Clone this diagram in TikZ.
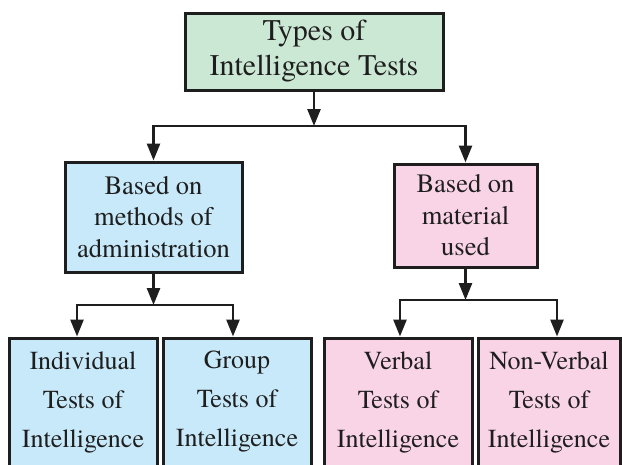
\documentclass[tikz,border=0pt]{standalone}
\usepackage{fontspec}
\setmainfont{texgyretermes}[Extension=.otf, UprightFont=*-regular, BoldFont=*-bold, ItalicFont=*-italic, BoldItalicFont=*-bolditalic]
\usetikzlibrary{arrows.meta}
\definecolor{boxgreen}{RGB}{203,232,213}
\definecolor{boxblue}{RGB}{199,233,249}
\definecolor{boxpink}{RGB}{249,211,230}
\definecolor{ink}{RGB}{30,30,30}
\tikzset{
  box/.style={draw=ink, line width=3pt, align=center, inner sep=0pt, text=ink},
  topfont/.style={font=\rmfamily\fontsize{30}{35}\selectfont},
  midfont/.style={font=\rmfamily\fontsize{26.5}{31.5}\selectfont},
  botfont/.style={font=\rmfamily\fontsize{26}{39}\selectfont},
  arr/.style={draw=ink, line width=2.6pt, -{Triangle[width=13pt,length=17pt]}}
}
\begin{document}
\begin{tikzpicture}[x=1pt,y=-1pt]
\useasboundingbox (0,0) rectangle (622,464);
\node[box, topfont, fill=boxgreen, minimum width=258pt, minimum height=77pt] (top) at (314,51.5) {Types of\\Intelligence Tests};
\node[box, midfont, fill=boxblue, minimum width=177pt, minimum height=110pt] (m1) at (153.5,217) {Based on\\methods of\\administration};
\node[box, midfont, fill=boxpink, minimum width=143pt, minimum height=103pt] (m2) at (465.5,215.5) {Based on\\material\\used};
\node[box, botfont, fill=boxblue, minimum width=148pt, minimum height=128pt] (b1) at (83,402) {Individual\\Tests of\\Intelligence};
\node[box, botfont, fill=boxblue, minimum width=148pt, minimum height=128pt] (b2) at (237,402) {Group\\Tests of\\Intelligence};
\node[box, botfont, fill=boxpink, minimum width=148pt, minimum height=128pt] (b3) at (398,402) {Verbal\\Tests of\\Intelligence};
\node[box, botfont, fill=boxpink, minimum width=142pt, minimum height=128pt] (b4) at (549,402) {Non-Verbal\\Tests of\\Intelligence};
\coordinate (j1) at (314,126);
\coordinate (j2) at (153.5,305);
\coordinate (j3) at (465.5,300);
\draw[arr] (top.south) -- (j1);
\draw[arr] (j1) -| (m1.north);
\draw[arr] (j1) -| (m2.north);
\draw[arr] (m1.south) -- (j2);
\draw[arr] (j2) -| ([xshift=-6pt]b1.north);
\draw[arr] (j2) -| ([xshift=-4pt]b2.north);
\draw[arr] (m2.south) -- (j3);
\draw[arr] (j3) -| ([xshift=2pt]b3.north);
\draw[arr] (j3) -| ([xshift=8pt]b4.north);
\end{tikzpicture}
\end{document}
